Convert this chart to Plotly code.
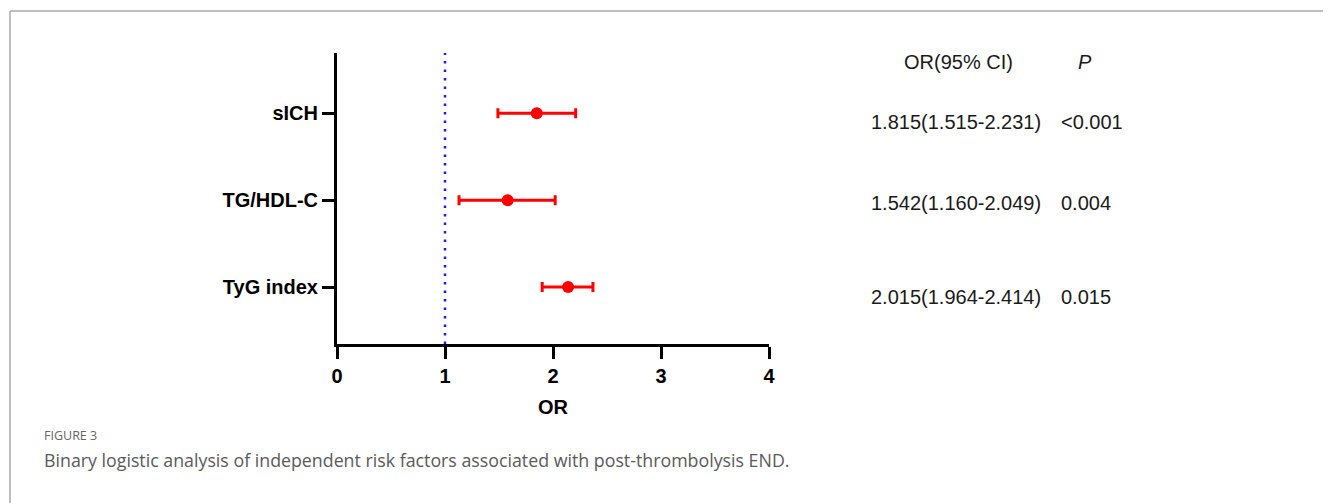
import plotly.graph_objects as go

# ---- data ----
factors = ["sICH", "TG/HDL-C", "TyG index"]
factor_pos = [3, 2, 1]
or_point = [1.85, 1.58, 2.14]
ci_low = [1.49, 1.13, 1.90]
ci_high = [2.21, 2.02, 2.37]
or_text = ["1.815(1.515-2.231)", "1.542(1.160-2.049)", "2.015(1.964-2.414)"]
p_text = ["<0.001", "0.004", "0.015"]
x_ticks = [0, 1, 2, 3, 4]
REF_OR = 1

OFF = 8  # page body margin
W, H = 1331 - OFF, 503 - OFF
L, R, T, B = 337 - OFF, 769 - OFF, 53 - OFF, 344 - OFF  # plot area in figure pixels


def px_x(p):  # page pixel -> paper
    return (p - OFF - L) / (R - L)


def px_y(p):
    return (B - (p - OFF)) / (B - T)


fig = go.Figure()

fig.add_trace(go.Scatter(
    x=or_point, y=factor_pos, mode="markers",
    marker=dict(color="#ff0000", size=12),
    error_x=dict(type="data", symmetric=False,
                 array=[h - p for h, p in zip(ci_high, or_point)],
                 arrayminus=[p - l for p, l in zip(or_point, ci_low)],
                 color="#ff0000", thickness=3, width=5),
    showlegend=False, hoverinfo="skip",
))

# reference line at OR = 1
fig.add_shape(type="line", xref="x", yref="paper", x0=REF_OR, x1=REF_OR, y0=0, y1=1,
              line=dict(color="#1a1aff", width=2.5, dash="2.5px,6px"), layer="above")

# frame (top + left border)
fig.add_shape(type="line", xref="paper", yref="paper",
              x0=px_x(10), x1=px_x(1335), y0=px_y(11), y1=px_y(11),
              line=dict(color="#a8a8a8", width=1.5))
fig.add_shape(type="line", xref="paper", yref="paper",
              x0=px_x(10), x1=px_x(10), y0=px_y(11), y1=px_y(510),
              line=dict(color="#a8a8a8", width=1.5))

tbl_font = dict(family="Liberation Sans, Arial, sans-serif", size=20, color="#1a1a1a")
ann = []
ann.append(dict(text="OR(95% CI)", x=px_x(958), y=px_y(61.5), xanchor="center", yanchor="middle", font=tbl_font))
ann.append(dict(text="<i>P</i>", x=px_x(1085), y=px_y(61.5), xanchor="center", yanchor="middle", font=tbl_font))
row_y = [121.7, 203, 296.7]
for ry, ot, pt in zip(row_y, or_text, p_text):
    ann.append(dict(text=ot, x=px_x(869), y=px_y(ry), xanchor="left", yanchor="middle", font=tbl_font))
    ann.append(dict(text=pt, x=px_x(1059), y=px_y(ry), xanchor="left", yanchor="middle", font=tbl_font))

cap_font = "Open Sans, Lato, sans-serif"
ann.append(dict(text="FIGURE 3", x=px_x(42), y=px_y(435), xanchor="left", yanchor="middle",
                font=dict(family=cap_font, size=12.5, color="#666666")))
ann.append(dict(text="Binary logistic analysis of independent risk factors associated with post-thrombolysis END.",
                x=px_x(42), y=px_y(460), xanchor="left", yanchor="middle",
                font=dict(family=cap_font, size=17.8, color="#5a5a5a")))
for a in ann:
    a.update(xref="paper", yref="paper", showarrow=False)

axis_font = dict(family="Liberation Sans, Arial, sans-serif", size=20, color="#000000", weight="bold")

fig.update_layout(
    width=W, height=H,
    margin=dict(l=L, r=W - R, t=T, b=H - B, pad=0),
    paper_bgcolor="white", plot_bgcolor="white",
    annotations=ann,
    xaxis=dict(range=[0, 4], tickvals=x_ticks, ticktext=[str(v) for v in x_ticks],
               showgrid=False, zeroline=False, showline=True, linecolor="black", linewidth=3,
               ticks="outside", ticklen=12, tickwidth=3, tickcolor="black",
               tickfont=axis_font,
               title=dict(text="<b>OR</b>", font=axis_font, standoff=14)),
    yaxis=dict(range=[0.344, 3.694], tickvals=factor_pos, ticktext=factors,
               showgrid=False, zeroline=False, showline=True, linecolor="black", linewidth=3,
               ticks="outside", ticklen=12, tickwidth=3, tickcolor="black",
               tickfont=axis_font),
)

fig.write_html("out.html")
